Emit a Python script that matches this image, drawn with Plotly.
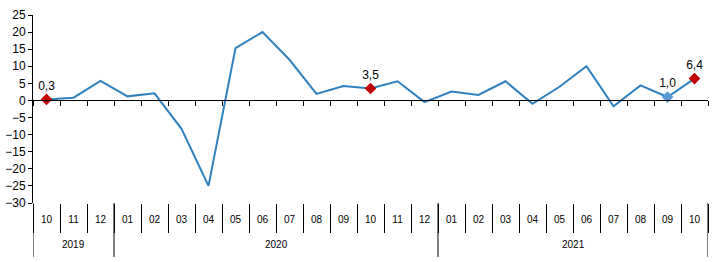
import plotly.graph_objects as go

years = ['2019'] * 3 + ['2020'] * 12 + ['2021'] * 10
months = ['10', '11', '12',
          '01', '02', '03', '04', '05', '06', '07', '08', '09', '10', '11', '12',
          '01', '02', '03', '04', '05', '06', '07', '08', '09', '10']
values = [0.3, 0.8, 5.7,
          1.2, 2.1, -8.3, -25.0, 15.3, 20.0, 11.9, 1.9, 4.2, 3.5, 5.6, -0.5,
          2.6, 1.6, 5.6, -1.0, 4.0, 10.0, -1.7, 4.4, 1.0, 6.4]
red_idx = [0, 12, 24]
blue_idx = [23]
yticks = list(range(-30, 30, 5))

cats = [f"{y}-{m}" for y, m in zip(years, months)]
n = len(cats)

def fmt(v):
    return f"{v:.1f}".replace('.', ',')

fig = go.Figure()
# invisible traces to register categories on helper axes
for ax in ['x2', 'x3']:
    fig.add_trace(go.Scatter(x=cats, y=[0] * n, xaxis=ax, mode='markers',
                             marker=dict(opacity=0), hoverinfo='skip', showlegend=False))
fig.add_trace(go.Scatter(x=cats, y=values, mode='lines',
                         line=dict(color='#2F80BF', width=2), showlegend=False))
fig.add_trace(go.Scatter(x=[cats[i] for i in red_idx], y=[values[i] for i in red_idx],
                         mode='markers+text',
                         marker=dict(symbol='diamond', size=9, color='#C00000'),
                         text=[fmt(values[i]) for i in red_idx], textposition='top center',
                         textfont=dict(size=12, color='#000000'), showlegend=False))
fig.add_trace(go.Scatter(x=[cats[i] for i in blue_idx], y=[values[i] for i in blue_idx],
                         mode='markers+text',
                         marker=dict(symbol='diamond', size=9, color='#5B9BD5'),
                         text=[fmt(values[i]) for i in blue_idx], textposition='top center',
                         textfont=dict(size=12, color='#000000'), showlegend=False))

# year groups
groups = []
start = 0
for i in range(1, n + 1):
    if i == n or years[i] != years[start]:
        groups.append((years[start], start, i - 1))
        start = i

shapes = []
annotations = []
for yr, s, e in groups:
    annotations.append(dict(x=(s + e) / 2, y=-0.22, xref='x', yref='paper', text=yr,
                            showarrow=False, font=dict(size=10), yanchor='middle'))
bounds = sorted(set([g[1] - 0.5 for g in groups] + [g[2] + 0.5 for g in groups]))
for b in bounds:
    shapes.append(dict(type='line', xref='x', yref='paper', x0=b, x1=b, y0=0, y1=-0.287,
                       line=dict(color='#000000', width=1)))

fig.update_layout(
    width=713, height=262,
    margin=dict(l=33, r=5, t=15, b=59),
    paper_bgcolor='white', plot_bgcolor='white',
    font=dict(family='Liberation Sans, Arial, sans-serif', color='#000000'),
    xaxis=dict(type='category', range=[-0.5, n - 0.5], showline=False, showgrid=False,
               ticks='', tickvals=cats, ticktext=months, tickfont=dict(size=10),
               ticklabelstandoff=9, zeroline=False),
    xaxis2=dict(type='category', overlaying='x', anchor='free', position=30 / 55,
                range=[-0.5, n - 0.5], showline=True, linecolor='#000000', linewidth=1,
                ticks='outside', tickson='boundaries', ticklen=5, tickcolor='#000000',
                showticklabels=False, showgrid=False, zeroline=False),
    xaxis3=dict(type='category', overlaying='x', anchor='y', side='bottom',
                range=[-0.5, n - 0.5], showline=False,
                ticks='outside', tickson='boundaries', ticklen=29, tickcolor='#000000',
                showticklabels=False, showgrid=False, zeroline=False),
    yaxis=dict(range=[-30, 25], tickvals=yticks, showline=True, linecolor='#000000',
               ticks='outside', ticklen=4, tickcolor='#000000', showgrid=False,
               zeroline=False, tickfont=dict(size=12)),
    shapes=shapes,
    annotations=annotations,
)

fig.write_html('out.html')
